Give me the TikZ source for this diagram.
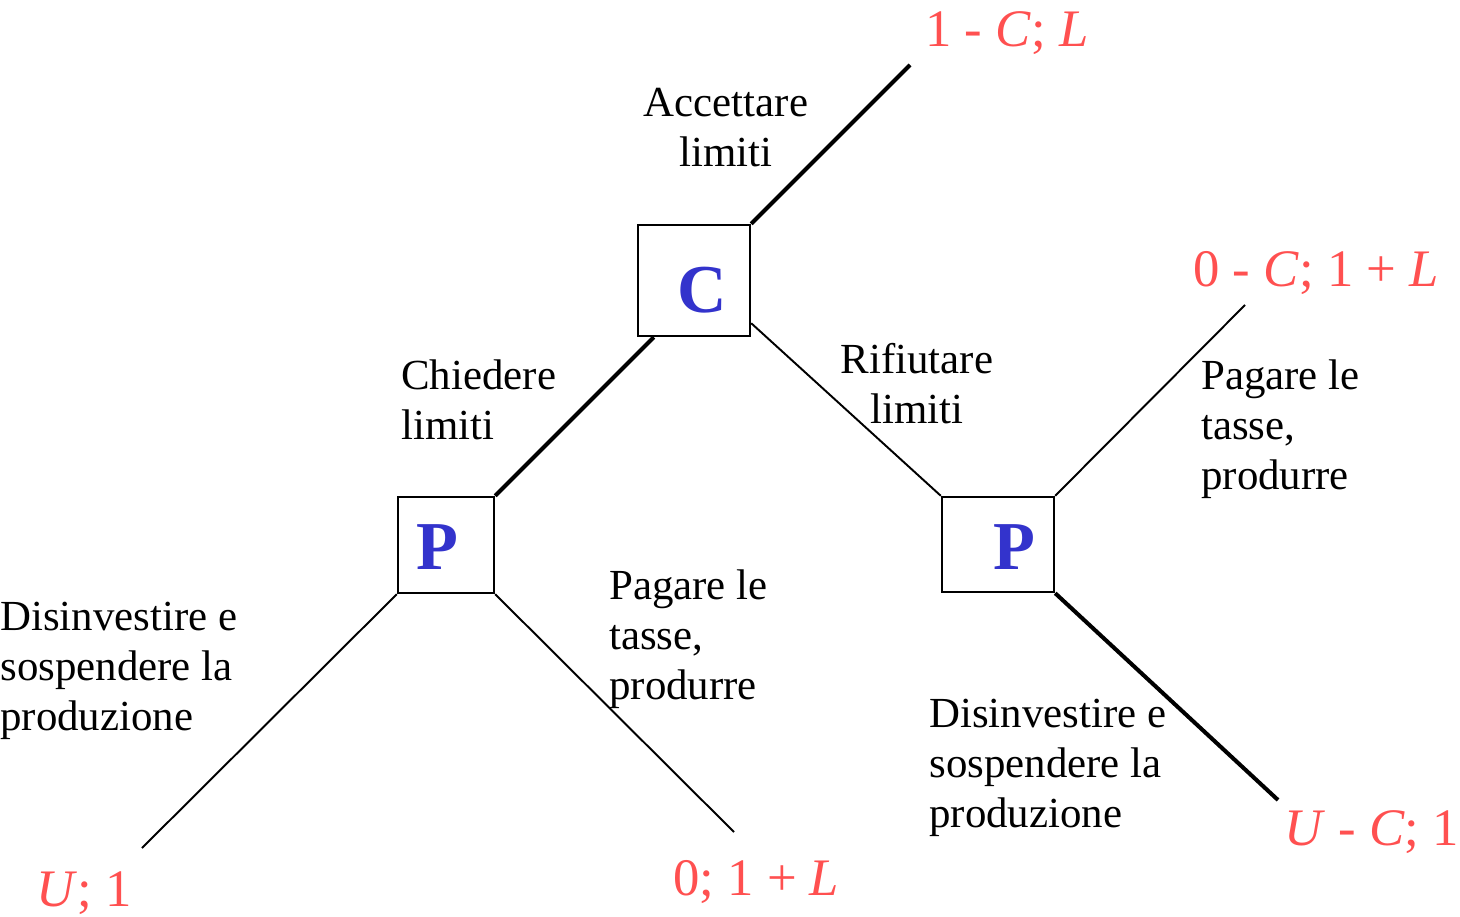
\documentclass[tikz,border=0pt]{standalone}
\usepackage{fontspec}
\setmainfont{Liberation Serif}
\usetikzlibrary{calc}

\definecolor{payred}{RGB}{255,80,80}
\definecolor{playerblue}{RGB}{51,51,204}

\tikzset{
	box/.style = {draw, line width = 1.4pt, inner sep = 0pt},
	who/.style = {font = \fontsize{39}{41}\selectfont\bfseries, text = playerblue, inner sep = 0pt},
	move/.style = {font = \fontsize{24.4}{28.5}\selectfont, inner sep = 0pt},
	pay/.style = {font = \fontsize{30}{35}\selectfont, text = payred, inner sep = 0pt},
	branch/.style = {line width = 1.1pt},
	chosen/.style = {line width = 2.3pt}
}

\begin{document}
\begin{tikzpicture}[x = 0.02cm, y = -0.02cm]
	
	\useasboundingbox (0, 0) rectangle (1460, 916);
	
	% Decision boxes
	
	\node [box, minimum width = 2.24cm, minimum height = 2.22cm] (c) at (694, 280.5) {};
	\node [box, minimum width = 1.92cm, minimum height = 1.92cm] (pl) at (446, 545) {};
	\node [box, minimum width = 2.24cm, minimum height = 1.9cm] (pr) at (998, 544.5) {};
	
	\node [who] (cname) at (702, 290) {C};
	\node [who] (plname) at (437, 547) {P};
	\node [who] (prname) at (1014, 547) {P};
	
	% Free ends of the branches
	
	\coordinate (accend) at (910, 65);
	\coordinate (prtop) at (1245, 305);
	\coordinate (prlow) at (1278, 800);
	\coordinate (plleft) at (142, 848);
	\coordinate (plright) at (734, 832);
	
	% Branches
	
	\draw [chosen] (c.north east) -- (accend);
	\draw [chosen] ($(c.south west) + (17, 0)$) -- (pl.north east);
	\draw [branch] ($(c.south east) + (0, -14)$) -- (pr.north west);
	
	\draw [branch] (pl.south west) -- (plleft);
	\draw [branch] (pl.south east) -- (plright);
	
	\draw [branch] (pr.north east) -- (prtop);
	\draw [chosen] (pr.south east) -- (prlow);
	
	% Labels of the moves
	
	\node [move, anchor = north, align = center] (acc) at (726, 88) {Accettare\\limiti};
	\node [move, anchor = north west, align = left] (chi) at (401, 359) {Chiedere\\limiti};
	\node [move, anchor = north, align = center] (rif) at (917, 343) {Rifiutare\\limiti};
	\node [move, anchor = north west, align = left] (pagr) at (1201, 359) {Pagare le\\tasse,\\produrre};
	\node [move, anchor = north west, align = left] (pagl) at (609, 569) {Pagare le\\tasse,\\produrre};
	\node [move, anchor = north west, align = left] (disl) at (0, 602) {Disinvestire e\\sospendere la\\produzione};
	\node [move, anchor = north west, align = left] (disr) at (929, 699) {Disinvestire e\\sospendere la\\produzione};
	
	% Payoffs
	
	\node [pay, anchor = base west] (payacc) at (925, 46) {1 - \textit{C}; \textit{L}};
	\node [pay, anchor = base west] (paypag) at (1193, 286) {0 - \textit{C};~1 + \textit{L}};
	\node [pay, anchor = base west] (paydis) at (1284, 845) {\textit{U} - \textit{C}; 1};
	\node [pay, anchor = base west] (paypl) at (673, 895) {0; 1 + \textit{L}};
	\node [pay, anchor = base west] (payul) at (36, 906) {\textit{U}; 1};

\end{tikzpicture}
\end{document}
